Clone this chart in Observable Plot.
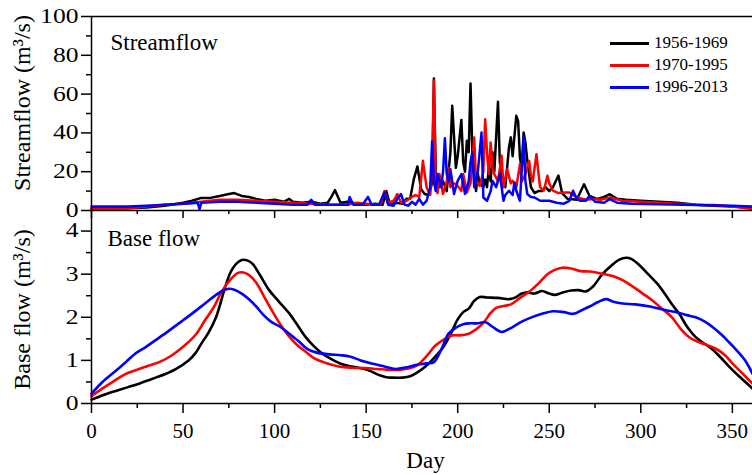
<!DOCTYPE html>
<html><head><meta charset="utf-8">
<script src="https://cdn.jsdelivr.net/npm/d3@7"></script>
<script src="https://cdn.jsdelivr.net/npm/@observablehq/plot@0.6"></script>
<style>
body{margin:0;background:#fff}
#wrap{position:relative;width:752px;height:475px;overflow:hidden;font-family:"Liberation Serif","Times New Roman",serif}
#wrap svg{position:absolute;left:0;top:0}
.legend{position:absolute;left:610px;top:32px;font-size:17px;color:#000}
.legend .row{display:flex;align-items:center;height:22.2px}
.legend .sw{width:39px;height:3px;margin-right:5px}
</style>
</head><body><div id="wrap"></div>
<script>
const periods = ["1956-1969", "1970-1995", "1996-2013"];
const colors = ["#000000", "#ff0000", "#0000ff"];
const xTicks = [0, 50, 100, 150, 200, 250, 300, 350];
const xMinor = [25, 75, 125, 175, 225, 275, 325];
const streamTicks = [0, 20, 40, 60, 80, 100];
const streamMinor = [10, 30, 50, 70, 90];
const baseTicks = [0, 1, 2, 3, 4];
const baseMinor = [0.5, 1.5, 2.5, 3.5];

// Streamflow (m3/s)
const blackDays = [0,10,20,30,40,50,55,60,65,70,75,78,82,86,90,95,100,105,108,110,115,120,125,129,131,133,136,140,145,150,155,159,161,163,166,170,172,174,176,178,180,182,184,186,187,188,190,192,194,196,197,199,200,202,203,204,205,206,207,208,210,211,212,214,215,216,217,218,219,220,222,223,224,226,228,229,230,232,233,234,235,236,237,238,240,242,244,246,248,250,252,255,257,260,265,269,272,276,280,283,287,292,300,310,320,330,340,350,361];
const blackFlow = [1,1,1.2,1.5,2.5,4,5,6.5,6.5,7.5,8.5,9,7.5,7,6,5,5.5,4.5,6,4.5,4,4.5,3.5,4,7,10.5,4,4.5,3.5,3,3.5,3,10,3,4,3.5,6,6,16,22.7,11,8.5,8,14,68,20,12,15,10,30,54,22,28,46.7,25,20,36,30,65.5,30,10,18.7,14,12,16,12,22,15,30,20,56,25,18,12,32.5,37.7,28,48.8,46,27,22,40.2,35,25.6,12,9,10,10,12,10,12,18,9,6,5.5,13.5,7.5,6,7,8.4,6,5.5,5,4.5,4,3,2.5,2,1.6];
const redDays = [0,10,20,30,40,50,60,70,80,90,100,110,120,130,140,145,150,155,158,160,162,165,167,169,172,175,177,179,181,183,185,186,187,188,189,190,192,194,195,196,198,200,202,203,205,207,209,210,212,214,215,216,217,218,219,220,222,224,225,227,229,230,232,234,235,237,239,240,241,243,244,245,247,249,250,252,255,258,261,265,270,274,278,283,290,300,310,320,330,340,350,361];
const redFlow = [0.6,0.8,1.2,2,3,3.5,4.5,5.5,5.5,5,4.5,4,3.5,3,3,4,3.5,3,3.5,10,4,5,8.5,4,5,7,8,7,25.6,12,8,20,67,12,9,18.8,8.5,15,22,12,14,12.7,10,18.8,9.3,14,37.6,15.3,12.7,20,47,30,18.8,35,22,18.8,15,28.2,12,21.3,14,15.3,12,23.9,15,18.8,25.6,18,15,29,20,12,10.2,17.9,14,10.2,9,9.3,9.3,6.7,5.5,5.9,5.5,6.7,5,4.5,4,3.5,3,2.8,2,0.7];
const blueDays = [0,10,20,30,40,50,55,58,59,60,70,80,90,100,110,118,120,122,130,135,140,141,143,148,151,153,157,160,162,165,167,169,171,173,175,177,179,181,183,185,186,187,188,189,191,192,193,194,195,196,198,199,200,202,204,206,207,208,209,211,213,214,216,218,219,221,223,225,226,228,230,231,232,234,236,237,238,240,242,245,250,254,258,261,263,265,267,270,272,275,280,283,287,295,310,330,350,361];
const blueFlow = [2,2,2,2.5,3,3.5,3.8,4,0.7,4,4.5,4.5,4,3.5,3,3,5.5,3,3,3,3,7,3,3,7,3,3,9.3,3,2.5,6,8.5,3,2.5,4.5,3,6,3,5,12,35.6,15,10,18.8,12,20,37.3,18.8,15,21.3,8.5,12,15.3,18.8,8.5,15,25,30,12,20,40.2,6.7,5,10,15.3,12,18.8,5,8,10.2,8,14.5,10.2,5,37.6,15,8.5,7,6.7,5,5,4,3.5,5,10.2,6,5,5,7.6,4.5,4,5.9,4,3.5,3.2,2.8,2.5,2];

// Base flow (m3/s)
const blackBaseDays = [0,10,20,26,33,40,46,53,57,60,64,68,73,76,79,82,85,88,92,97,102,108,112,117,121,126,131,137,142,148,153,157,161,164,170,174,178,183,188,192,196,200,203,206,209,212,216,222,228,231,235,238,242,246,250,253,257,262,266,270,274,279,284,288,292,295,299,304,309,313,317,321,325,330,335,339,344,350,355,361];
const blackBase = [0.09,0.25,0.38,0.46,0.57,0.68,0.8,1.0,1.18,1.39,1.65,2.0,2.7,3.05,3.24,3.33,3.32,3.24,2.98,2.63,2.38,2.09,1.85,1.54,1.35,1.16,1.03,0.91,0.86,0.81,0.74,0.66,0.61,0.6,0.6,0.63,0.72,0.88,1.1,1.3,1.6,1.95,2.12,2.2,2.38,2.47,2.46,2.45,2.42,2.45,2.55,2.58,2.55,2.61,2.55,2.52,2.57,2.62,2.63,2.6,2.72,3.0,3.2,3.33,3.38,3.35,3.22,3.0,2.78,2.55,2.3,2.08,1.8,1.54,1.38,1.26,1.05,0.78,0.58,0.35];
const redBaseDays = [0,6,13,18,24,30,37,44,51,57,62,67,71,76,80,83,86,90,95,100,104,108,112,117,122,128,135,142,150,156,162,168,173,178,183,188,193,197,201,206,210,214,218,221,225,229,234,239,244,249,253,257,262,267,272,279,285,290,296,301,306,311,317,322,327,332,337,341,346,350,355,361];
const redBase = [0.17,0.35,0.54,0.67,0.77,0.86,0.96,1.12,1.35,1.6,1.93,2.25,2.59,2.88,3.03,3.04,2.98,2.8,2.42,2.05,1.78,1.55,1.37,1.2,1.04,0.94,0.86,0.83,0.82,0.8,0.78,0.78,0.81,0.89,1.1,1.35,1.5,1.58,1.58,1.62,1.72,1.87,2.1,2.22,2.26,2.3,2.45,2.59,2.78,3.0,3.1,3.15,3.13,3.07,3.06,3.01,2.95,2.86,2.7,2.55,2.4,2.22,2.0,1.72,1.52,1.42,1.34,1.27,1.12,0.93,0.72,0.46];
const blueBaseDays = [0,6,13,19,24,30,35,42,50,56,62,68,72,75,78,82,86,90,94,98,103,108,113,118,123,130,136,141,147,153,160,166,172,177,183,187,191,195,199,203,207,211,215,219,224,229,235,241,246,252,258,263,268,272,277,281,285,290,297,305,312,319,325,330,335,339,344,348,352,357,361];
const blueBase = [0.23,0.5,0.75,0.97,1.16,1.32,1.47,1.68,1.93,2.12,2.32,2.52,2.62,2.66,2.64,2.55,2.42,2.25,2.05,1.9,1.78,1.62,1.45,1.26,1.18,1.14,1.12,1.09,1.0,0.93,0.86,0.8,0.84,0.89,0.93,0.96,1.25,1.62,1.76,1.84,1.86,1.86,1.89,1.78,1.66,1.75,1.9,2.01,2.08,2.14,2.12,2.08,2.17,2.25,2.36,2.42,2.36,2.32,2.3,2.25,2.18,2.12,2.05,2.0,1.9,1.78,1.6,1.43,1.25,1.0,0.69];

function rows(days, vals, period) { return days.map((day, i) => ({day, value: vals[i], period})); }
const stream = [...rows(blackDays, blackFlow, periods[0]), ...rows(redDays, redFlow, periods[1]), ...rows(blueDays, blueFlow, periods[2])];
const base = [...rows(blackBaseDays, blackBase, periods[0]), ...rows(redBaseDays, redBase, periods[1]), ...rows(blueBaseDays, blueBase, periods[2])];

const common = {
  width: 752, height: 475, marginLeft: 91, marginRight: 0,
  x: {domain: [0, 361]},
  color: {domain: periods, range: colors},
  style: {fontFamily: '"Liberation Serif","Times New Roman",serif', fontSize: "21px", background: "transparent", overflow: "visible", color: "#000"}
};
const blank = () => "";

const bottomChart = Plot.plot({
  ...common, marginTop: 209, marginBottom: 72,
  y: {domain: [0, 4.5]},
  marks: [
    Plot.line(base, {x: "day", y: "value", stroke: "period", z: "period", strokeWidth: 2.6, curve: "catmull-rom"}),
    Plot.ruleY([0], {strokeWidth: 1.5}),
    Plot.ruleX([0], {strokeWidth: 1.5}),
    Plot.axisY(baseTicks, {tickSize: 10, tickPadding: 3, label: null, strokeWidth: 1.5, fontSize: 20}),
    Plot.axisY(baseMinor, {tickSize: 5, tickFormat: blank, label: null, strokeWidth: 1.5}),
    Plot.axisX(xTicks, {tickSize: 10, tickPadding: 10, label: null, strokeWidth: 1.5}),
    Plot.axisX(xMinor, {tickSize: 5, tickFormat: blank, label: null, strokeWidth: 1.5}),
    Plot.text(["Base flow"], {text: d => d, frameAnchor: "top-left", dx: 16, dy: 20, lineAnchor: "top", textAnchor: "start", fontSize: 23}),
    Plot.text(["Base flow (m³/s)"], {text: d => d, frameAnchor: "left", rotate: -90, dx: -69, dy: 3, lineAnchor: "middle", textAnchor: "middle", fontSize: 24}),
    Plot.text(["Day"], {text: d => d, frameAnchor: "bottom", dx: 3.5, dy: 48, lineAnchor: "top", textAnchor: "middle", fontSize: 23})
  ]
});

const topChart = Plot.plot({
  ...common, marginTop: 16, marginBottom: 265,
  y: {domain: [0, 100]},
  marks: [
    Plot.line(stream, {x: "day", y: "value", stroke: "period", z: "period", strokeWidth: 2.5}),
    Plot.ruleY([100], {strokeWidth: 1.5}),
    Plot.ruleY([0], {strokeWidth: 1.5}),
    Plot.ruleX([0], {strokeWidth: 1.5}),
    Plot.axisY(streamTicks, {tickSize: 10, tickPadding: 3, label: null, strokeWidth: 1.5, fontSize: 20}),
    Plot.axisY(streamMinor, {tickSize: 5, tickFormat: blank, label: null, strokeWidth: 1.5}),
    Plot.axisX(xTicks, {tickSize: 8, tickFormat: blank, label: null, strokeWidth: 1.5}),
    Plot.axisX(xMinor, {tickSize: 4, tickFormat: blank, label: null, strokeWidth: 1.5}),
    Plot.text(["Streamflow"], {text: d => d, frameAnchor: "top-left", dx: 19, dy: 17, lineAnchor: "top", textAnchor: "start", fontSize: 23}),
    Plot.text(["Streamflow (m³/s)"], {text: d => d, frameAnchor: "left", rotate: -90, dx: -69, dy: -10.5, lineAnchor: "middle", textAnchor: "middle", fontSize: 24})
  ]
});

const wrap = document.getElementById("wrap");
wrap.appendChild(bottomChart);
wrap.appendChild(topChart);

// the reference draws the y tick numbers slightly wide: widen glyphs a little
wrap.querySelectorAll('g[aria-label="y-axis tick label"] text').forEach(t => {
  if (!t.textContent) return;
  const len = t.getComputedTextLength();
  if (len > 0) {
    t.setAttribute("textLength", (len * 1.28).toFixed(1));
    t.setAttribute("lengthAdjust", "spacingAndGlyphs");
  }
});

const legend = document.createElement("div");
legend.className = "legend";
periods.forEach((p, i) => {
  const row = document.createElement("div");
  row.className = "row";
  const sw = document.createElement("span");
  sw.className = "sw";
  sw.style.background = colors[i];
  const t = document.createElement("span");
  t.textContent = p;
  row.appendChild(sw); row.appendChild(t);
  legend.appendChild(row);
});
wrap.appendChild(legend);
</script>
</body></html>
